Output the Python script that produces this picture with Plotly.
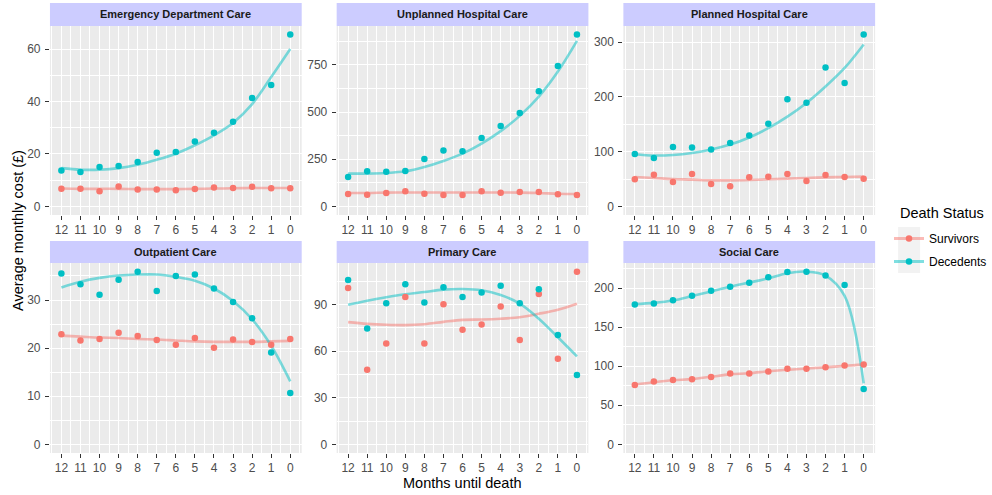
import plotly.graph_objects as go

# ---------------- data ----------------
months = [12, 11, 10, 9, 8, 7, 6, 5, 4, 3, 2, 1, 0]
panel_titles = ["Emergency Department Care", "Unplanned Hospital Care", "Planned Hospital Care",
                "Outpatient Care", "Primary Care", "Social Care"]

ed_surv = [6.7, 6.7, 5.8, 7.6, 6.4, 6.4, 6.2, 6.6, 7.2, 7.0, 7.5, 6.9, 6.9]
ed_dec = [13.7, 13.1, 15.0, 15.4, 16.9, 20.5, 20.7, 24.7, 28.1, 32.3, 41.3, 46.3, 65.5]
ed_surv_smooth = [6.8, 6.7, 6.7, 6.7, 6.6, 6.6, 6.6, 6.7, 6.8, 6.9, 7.0, 7.0, 7.0]
ed_dec_smooth = [14.6, 14.0, 14.0, 14.6, 15.9, 17.8, 20.1, 23.3, 27.1, 31.8, 39.0, 49.3, 60.0]

uh_surv = [66, 62, 71, 80, 67, 60, 60, 80, 73, 76, 76, 64, 60]
uh_dec = [156, 186, 184, 188, 252, 296, 293, 363, 426, 495, 610, 745, 911]
uh_surv_smooth = [71, 71, 73, 74, 74, 74, 74, 74, 74, 73, 71, 67, 66]
uh_dec_smooth = [174, 174, 177, 186, 209, 241, 280, 333, 399, 480, 582, 715, 878]

ph_surv = [49.5, 58.0, 44.6, 59.3, 41.0, 36.7, 53.1, 54.4, 59.3, 46.4, 57.4, 53.8, 50.7]
ph_dec = [95.9, 88.6, 108.7, 107.5, 103.8, 116.0, 129.5, 150.9, 196.0, 189.4, 254.0, 225.4, 314.0]
ph_surv_smooth = [53.8, 52.0, 50.0, 48.9, 47.6, 47.6, 48.3, 49.5, 50.7, 52.0, 53.1, 53.8, 54.4]
ph_dec_smooth = [95.3, 93.0, 94.0, 97.7, 104.0, 113.0, 126.0, 143.0, 164.0, 189.0, 219.0, 253.0, 296.0]

op_surv = [22.9, 21.6, 21.9, 23.2, 22.5, 21.7, 20.7, 22.1, 20.1, 21.8, 21.3, 20.7, 21.9]
op_dec = [35.5, 33.3, 31.1, 34.2, 35.9, 31.9, 35.0, 35.3, 32.4, 29.6, 26.2, 19.1, 10.7]
op_surv_smooth = [22.6, 22.4, 22.2, 22.1, 21.9, 21.8, 21.6, 21.4, 21.3, 21.3, 21.3, 21.4, 21.5]
op_dec_smooth = [32.6, 33.8, 34.6, 35.1, 35.3, 35.3, 34.8, 34.0, 32.4, 29.8, 26.0, 20.5, 13.1]

pc_surv = [100.6, 48.0, 64.8, 94.8, 64.8, 90.2, 73.7, 77.1, 88.7, 67.2, 96.7, 55.1, 111.1]
pc_dec = [105.7, 74.5, 90.7, 103.0, 91.3, 101.0, 94.8, 97.6, 102.1, 90.7, 99.7, 70.4, 44.6]
pc_surv_smooth = [78.6, 77.5, 76.9, 76.7, 77.3, 78.8, 80.1, 80.3, 80.8, 81.8, 84.0, 86.6, 90.5]
pc_dec_smooth = [89.8, 92.4, 94.6, 96.5, 98.0, 99.5, 99.9, 99.1, 96.1, 90.5, 80.8, 68.9, 56.6]

sc_surv = [76.0, 80.3, 82.4, 83.3, 86.3, 90.6, 90.6, 93.1, 96.6, 96.6, 98.7, 100.9, 102.1]
sc_dec = [179.0, 180.3, 184.5, 190.1, 196.6, 201.7, 206.9, 213.7, 220.6, 221.0, 215.9, 203.9, 70.8]
sc_surv_smooth = [76.5, 79.5, 82.0, 83.5, 86.5, 89.5, 91.0, 93.5, 95.5, 97.0, 98.5, 100.5, 102.0]
sc_dec_smooth = [179.4, 181.0, 184.0, 189.7, 195.7, 201.7, 207.0, 212.4, 219.0, 221.0, 216.0, 190.0, 78.0]

y_ticks = [[0, 20, 40, 60], [0, 250, 500, 750], [0, 100, 200, 300],
           [0, 10, 20, 30], [0, 30, 60, 90], [0, 50, 100, 150, 200]]

surv_series = [ed_surv, uh_surv, ph_surv, op_surv, pc_surv, sc_surv]
dec_series = [ed_dec, uh_dec, ph_dec, op_dec, pc_dec, sc_dec]
surv_smooth = [ed_surv_smooth, uh_surv_smooth, ph_surv_smooth, op_surv_smooth, pc_surv_smooth, sc_surv_smooth]
dec_smooth = [ed_dec_smooth, uh_dec_smooth, ph_dec_smooth, op_dec_smooth, pc_dec_smooth, sc_dec_smooth]

# ---------------- layout helpers ----------------
W, H = 992, 495
SURV_COL = "#F8766D"
DEC_COL = "#00BFC4"
SURV_LINE = "rgba(248,118,109,0.5)"
DEC_LINE = "rgba(0,191,196,0.5)"
FONT = "Liberation Sans, Arial, sans-serif"

col_x = [(50, 302), (337, 589), (624, 876)]
row_y = [(26, 215), (263, 453)]      # plot area (top, bottom) in px
strip_y = [(3, 26), (241, 263)]


def fx(px):
    return px / W


def fy(py):
    return 1 - py / H


fig = go.Figure()
shapes = []
annotations = []

for i in range(6):
    r, c = divmod(i, 3)
    n = i + 1
    xa = "x" if n == 1 else f"x{n}"
    ya = "y" if n == 1 else f"y{n}"

    # smooth lines
    fig.add_trace(go.Scatter(x=months, y=surv_smooth[i], mode="lines", xaxis=xa, yaxis=ya,
                             line=dict(color=SURV_LINE, width=2.6, shape="spline", smoothing=1.0),
                             showlegend=False, hoverinfo="skip"))
    fig.add_trace(go.Scatter(x=months, y=dec_smooth[i], mode="lines", xaxis=xa, yaxis=ya,
                             line=dict(color=DEC_LINE, width=2.6, shape="spline", smoothing=1.0),
                             showlegend=False, hoverinfo="skip"))
    # points
    fig.add_trace(go.Scatter(x=months, y=surv_series[i], mode="markers", xaxis=xa, yaxis=ya,
                             marker=dict(color=SURV_COL, size=6.5), showlegend=False, name="Survivors"))
    fig.add_trace(go.Scatter(x=months, y=dec_series[i], mode="markers", xaxis=xa, yaxis=ya,
                             marker=dict(color=DEC_COL, size=6.5), showlegend=False, name="Decedents"))

    ymax = max(max(surv_series[i]), max(dec_series[i]), max(surv_smooth[i]), max(dec_smooth[i]))
    yr = [-0.05 * ymax, 1.05 * ymax]
    ticks = y_ticks[i]
    step = ticks[1] - ticks[0]
    ext = [ticks[0] - step] + ticks + [ticks[-1] + step]
    yminor = [(a + b) / 2 for a, b in zip(ext[:-1], ext[1:]) if yr[0] <= (a + b) / 2 <= yr[1]]
    xminor = [m + 0.5 for m in range(-1, 13)]

    x0, x1 = col_x[c]
    yt, yb = row_y[r]
    axis_common = dict(showline=False, zeroline=False, gridcolor="white", gridwidth=1.1,
                       ticks="outside", ticklen=4, tickwidth=1, tickcolor="#333333",
                       tickfont=dict(family=FONT, size=12, color="#4D4D4D"))
    fig.layout[f"xaxis{n if n > 1 else ''}"] = dict(
        domain=[fx(x0), fx(x1)], anchor=ya, range=[12.6, -0.6],
        tickmode="array", tickvals=months, ticktext=[str(m) for m in months],
        minor=dict(tickmode="array", tickvals=xminor, showgrid=True, gridcolor="white", gridwidth=0.5, ticks=""),
        ticklabelstandoff=0, **axis_common)
    fig.layout[f"yaxis{n if n > 1 else ''}"] = dict(
        domain=[fy(yb), fy(yt)], anchor=xa, range=yr,
        tickmode="array", tickvals=ticks, ticktext=[str(t) for t in ticks],
        minor=dict(tickmode="array", tickvals=yminor, showgrid=True, gridcolor="white", gridwidth=0.5, ticks=""),
        ticklabelstandoff=2, **axis_common)

    # strip
    st, sb = strip_y[r]
    shapes.append(dict(type="rect", xref="paper", yref="paper", x0=fx(x0), x1=fx(x1),
                       y0=fy(sb), y1=fy(st), fillcolor="#CCCCFF", line=dict(width=0), layer="below"))
    annotations.append(dict(text=f"<b>{panel_titles[i]}</b>", xref="paper", yref="paper",
                            x=fx((x0 + x1) / 2), y=fy((st + sb) / 2), showarrow=False,
                            xanchor="center", yanchor="middle",
                            font=dict(family=FONT, size=11, color="#1A1A1A")))

# legend entries
fig.add_trace(go.Scatter(x=[None], y=[None], mode="lines+markers", name="Survivors", legendgroup="s",
                         line=dict(color=SURV_LINE, width=3), marker=dict(color=SURV_COL, size=6.5)))
fig.add_trace(go.Scatter(x=[None], y=[None], mode="lines+markers", name="Decedents", legendgroup="d",
                         line=dict(color=DEC_LINE, width=3), marker=dict(color=DEC_COL, size=6.5)))

# legend key backgrounds
for yk0, yk1 in [(227, 250), (250, 273)]:
    shapes.append(dict(type="rect", xref="paper", yref="paper", x0=fx(899), x1=fx(921),
                       y0=fy(yk1), y1=fy(yk0), fillcolor="#F2F2F2", line=dict(width=0), layer="below"))

# legend title
annotations.append(dict(text="Death Status", xref="paper", yref="paper", x=fx(899), y=fy(213),
                        showarrow=False, xanchor="left", yanchor="middle",
                        font=dict(family=FONT, size=14.5, color="black")))

# axis titles
annotations.append(dict(text="Months until death", xref="paper", yref="paper", x=fx(463), y=fy(483),
                        showarrow=False, xanchor="center", yanchor="middle",
                        font=dict(family=FONT, size=14.5, color="black")))
annotations.append(dict(text="Average monthly cost (£)", xref="paper", yref="paper", x=fx(18), y=fy(230),
                        showarrow=False, xanchor="center", yanchor="middle", textangle=-90,
                        font=dict(family=FONT, size=14.5, color="black")))

fig.update_layout(
    width=W, height=H, margin=dict(l=0, r=0, t=0, b=0),
    paper_bgcolor="white", plot_bgcolor="#EBEBEB",
    shapes=shapes, annotations=annotations,
    legend=dict(x=fx(890), y=fy(224), xanchor="left", yanchor="top", itemwidth=30,
                bgcolor="rgba(0,0,0,0)", tracegroupgap=4,
                font=dict(family=FONT, size=12, color="black")),
    font=dict(family=FONT),
)

fig.write_html("out.html")
